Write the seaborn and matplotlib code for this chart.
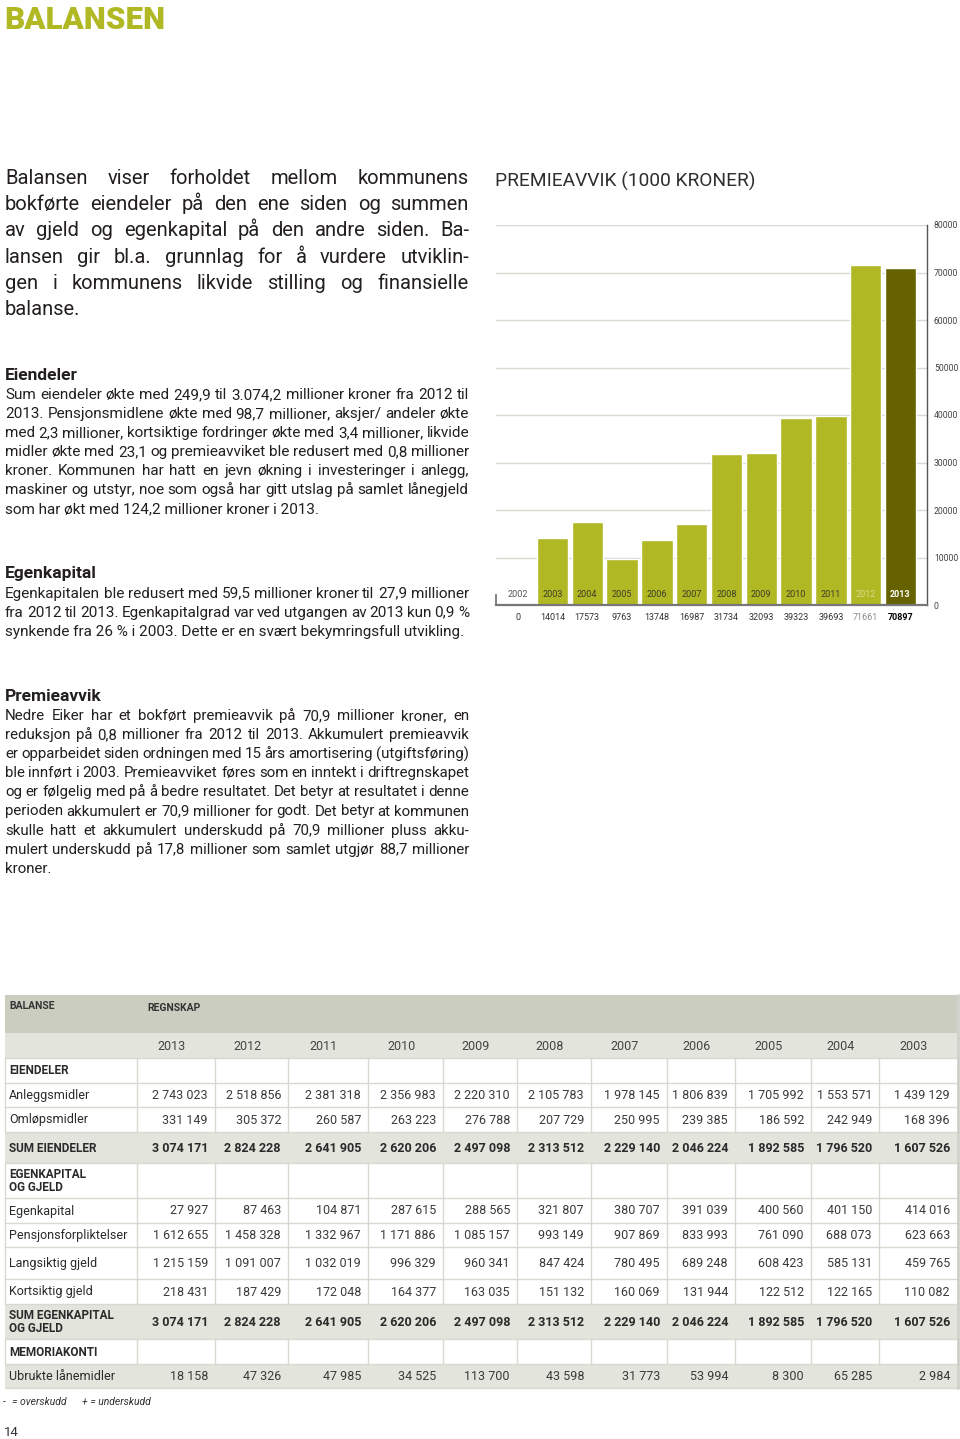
import numpy as np
import pandas as pd
import matplotlib
matplotlib.use('Agg')
import matplotlib.pyplot as plt
import seaborn as sns
from matplotlib.patches import Rectangle
from matplotlib.ticker import FuncFormatter

sns.set_theme(style="white")
plt.rcParams['font.family'] = ['Roboto', 'DejaVu Sans']

GREEN = '#b0b823'
DARK_OLIVE = '#666200'
TXT = '#231f20'
GRID = '#d9d9d2'

# ---- chart data: premieavvik (1000 kroner)
chart_years = ['2002', '2003', '2004', '2005', '2006', '2007', '2008', '2009',
               '2010', '2011', '2012', '2013']
premieavvik = [0, 14014, 17573, 9763, 13748, 16987, 31734, 32093, 39323, 39693,
               71661, 70897]

# ---- table data: balanse, regnskap
table_years = ['2013', '2012', '2011', '2010', '2009', '2008', '2007', '2006',
               '2005', '2004', '2003']
anleggsmidler = [2743023, 2518856, 2381318, 2356983, 2220310, 2105783, 1978145,
                 1806839, 1705992, 1553571, 1439129]
omlopsmidler = [331149, 305372, 260587, 263223, 276788, 207729, 250995, 239385,
                186592, 242949, 168396]
sum_eiendeler = [3074171, 2824228, 2641905, 2620206, 2497098, 2313512, 2229140,
                 2046224, 1892585, 1796520, 1607526]
egenkapital = [27927, 87463, 104871, 287615, 288565, 321807, 380707, 391039,
               400560, 401150, 414016]
pensjonsforpliktelser = [1612655, 1458328, 1332967, 1171886, 1085157, 993149,
                         907869, 833993, 761090, 688073, 623663]
langsiktig_gjeld = [1215159, 1091007, 1032019, 996329, 960341, 847424, 780495,
                    689248, 608423, 585131, 459765]
kortsiktig_gjeld = [218431, 187429, 172048, 164377, 163035, 151132, 160069,
                    131944, 122512, 122165, 110082]
sum_ek_gjeld = [3074171, 2824228, 2641905, 2620206, 2497098, 2313512, 2229140,
                2046224, 1892585, 1796520, 1607526]
ubrukte_lanemidler = [18158, 47326, 47985, 34525, 113700, 43598, 31773, 53994,
                      8300, 65285, 2984]

# ---- text
intro = ["Balansen viser forholdet mellom kommunens",
         "bokførte eiendeler på den ene siden og summen",
         "av gjeld og egenkapital på den andre siden. Ba-",
         "lansen gir bl.a. grunnlag for å vurdere utviklin-",
         "gen i kommunens likvide stilling og finansielle",
         "balanse."]
eiendeler_txt = ["Sum eiendeler økte med 249,9 til 3.074,2  millioner kroner fra 2012 til",
                 "2013. Pensjonsmidlene økte med 98,7 millioner, aksjer/ andeler økte",
                 "med 2,3 millioner, kortsiktige fordringer økte med 3,4 millioner, likvide",
                 "midler økte med 23,1 og premieavviket ble redusert med 0,8 millioner",
                 "kroner. Kommunen har hatt en jevn økning i investeringer i anlegg,",
                 "maskiner og utstyr, noe som også har gitt utslag på samlet lånegjeld",
                 "som har økt med 124,2 millioner kroner i 2013."]
egenkapital_txt = ["Egenkapitalen ble redusert med 59,5 millioner kroner til 27,9 millioner",
                   "fra 2012 til 2013. Egenkapitalgrad var ved utgangen av 2013  kun 0,9 %",
                   "synkende fra 26 % i 2003. Dette er en svært bekymringsfull utvikling."]
premie_txt = ["Nedre Eiker har et bokført premieavvik på 70,9 millioner kroner, en",
              "reduksjon på 0,8 millioner fra 2012 til 2013. Akkumulert premieavvik",
              "er opparbeidet siden ordningen med 15 års amortisering (utgiftsføring)",
              "ble innført i 2003. Premieavviket føres som en inntekt i driftregnskapet",
              "og er følgelig med på å bedre resultatet. Det betyr at resultatet i denne",
              "perioden akkumulert er 70,9 millioner for godt. Det betyr at kommunen",
              "skulle hatt et akkumulert underskudd på 70,9 millioner pluss akku-",
              "mulert underskudd på 17,8 millioner som samlet utgjør 88,7 millioner",
              "kroner."]

fig = plt.figure(figsize=(9.6, 14.39), dpi=100)
page = fig.add_axes([0, 0, 1, 1])
page.set_xlim(0, 960)
page.set_ylim(1439, 0)
page.axis('off')
renderer = fig.canvas.get_renderer()


def wwidth(s, size, weight='normal'):
    t = page.text(0, 0, s, fontsize=size, fontweight=weight)
    w = t.get_window_extent(renderer).width
    t.remove()
    return w


def paragraph(lines, x0, x1, y0, step, size, color=TXT):
    space = wwidth('a a', size) - wwidth('aa', size)
    for ln in lines[:-1]:
        words = ln.split()
        need = sum(wwidth(w, size) for w in words) + 0.8 * space * (len(words) - 1)
        if need > x1 - x0:
            size *= (x1 - x0) / need
    for k, ln in enumerate(lines):
        y = y0 + k * step
        if k == len(lines) - 1:
            page.text(x0, y, ln, fontsize=size, color=color, va='baseline')
            continue
        words = ln.split()
        widths = [wwidth(w, size) for w in words]
        gap = (x1 - x0 - sum(widths)) / (len(words) - 1)
        x = x0
        for w, wd in zip(words, widths):
            page.text(x, y, w, fontsize=size, color=color, va='baseline')
            x += wd + gap


# ---- headings and paragraphs
page.text(4, 29, 'BALANSEN', fontsize=22.5, fontweight='black', color=GREEN, va='baseline')
paragraph(intro, 5, 469, 184, 26.2, 14.5)
page.text(5, 380, 'Eiendeler', fontsize=12.5, fontweight='bold', color=TXT, va='baseline')
paragraph(eiendeler_txt, 5, 469, 399.3, 19.0, 11)
page.text(5, 577.7, 'Egenkapital', fontsize=12.5, fontweight='bold', color=TXT, va='baseline')
paragraph(egenkapital_txt, 5, 469, 597.7, 19.0, 11)
page.text(5, 701, 'Premieavvik', fontsize=12.5, fontweight='bold', color=TXT, va='baseline')
paragraph(premie_txt, 5, 469, 720, 19.1, 11)

page.text(495, 187, 'PREMIEAVVIK (1000 KRONER)', fontsize=13.8, fontweight='normal',
          color='#2e2e2e', va='baseline')

# ---- chart
ax = fig.add_axes([496 / 960, 1 - 605 / 1439, (927 - 496) / 960, (605 - 225) / 1439])
df = pd.DataFrame({'år': chart_years, 'premieavvik': premieavvik})
bar_colors = {y: (DARK_OLIVE if y == '2013' else GREEN) for y in chart_years}
sns.barplot(data=df, x='år', y='premieavvik', hue='år', palette=bar_colors,
            saturation=1, width=0.9, legend=False, ax=ax, zorder=2)
ax.set_xlim(-0.62, 11.76)
ax.set_ylim(0, 80000)
ax.set_xlabel('')
ax.set_ylabel('')
ax.set_xticks([])
ax.set_yticks(np.arange(0, 80001, 10000))
ax.yaxis.tick_right()
ax.yaxis.set_major_formatter(FuncFormatter(lambda v, _: f'{int(v)}'))
ax.tick_params(axis='y', length=0, pad=5, labelsize=6.2, labelcolor='#444444')
ax.grid(axis='y', color=GRID, lw=1)
ax.set_axisbelow(True)
ax.set_facecolor('none')
ax.spines['top'].set_visible(False)
ax.spines['left'].set_bounds(0, 2200)
ax.spines['left'].set_color('#777777')
ax.spines['left'].set_linewidth(1.3)
ax.spines['bottom'].set_color('#777777')
ax.spines['bottom'].set_linewidth(1.6)
ax.spines['right'].set_color('#555555')
ax.spines['right'].set_linewidth(1.0)

for i, (yr, val) in enumerate(zip(chart_years, premieavvik)):
    if yr == '2013':
        yc, vc, fw = 'white', 'black', 'bold'
    elif yr == '2012':
        yc, vc, fw = '#d9dc8c', '#8a8a8a', 'normal'
    elif yr == '2002':
        yc, vc, fw = '#555555', '#333333', 'normal'
    else:
        yc, vc, fw = '#3d3d2a', '#333333', 'normal'
    ax.annotate(yr, xy=(i, 0), xytext=(0, 11), textcoords='offset pixels',
                ha='center', va='center', fontsize=6.5, color=yc, fontweight=fw,
                annotation_clip=False, zorder=3)
    ax.annotate(f'{val}', xy=(i, 0), xytext=(0, -12), textcoords='offset pixels',
                ha='center', va='center', fontsize=6.5, color=vc, fontweight=fw,
                annotation_clip=False)

# ---- table
col_edges = [5, 137, 215, 288, 368, 443, 517, 591, 667, 735, 811, 879, 957]
row_edges = [1058, 1083, 1107, 1132, 1163, 1198, 1223, 1247, 1279, 1304, 1339, 1364, 1388]
tbl_rows = [
    ('EIENDELER', None, 'head'),
    ('Anleggsmidler', anleggsmidler, 'row'),
    ('Omløpsmidler', omlopsmidler, 'row'),
    ('SUM EIENDELER', sum_eiendeler, 'sum'),
    ('EGENKAPITAL\nOG GJELD', None, 'head'),
    ('Egenkapital', egenkapital, 'row'),
    ('Pensjonsforpliktelser', pensjonsforpliktelser, 'row'),
    ('Langsiktig gjeld', langsiktig_gjeld, 'row'),
    ('Kortsiktig gjeld', kortsiktig_gjeld, 'row'),
    ('SUM EGENKAPITAL\nOG GJELD', sum_ek_gjeld, 'sum'),
    ('MEMORIAKONTI', None, 'head'),
    ('Ubrukte lånemidler', ubrukte_lanemidler, 'shade'),
]

page.add_patch(Rectangle((5, 995), 952, 38, color='#cbcdc1', lw=0))
page.add_patch(Rectangle((5, 1033), 952, 25, color='#e3e4dc', lw=0))
page.text(9, 1006, 'BALANSE', fontsize=7.5, fontweight='bold', color='#333333', va='center')
page.text(147, 1008, 'REGNSKAP', fontsize=7.5, fontweight='bold', color='#333333', va='center')
for j, yr in enumerate(table_years):
    xc = (col_edges[j + 1] + col_edges[j + 2]) / 2 - 4
    page.text(xc, 1046.5, yr, fontsize=9, color='#444444', ha='center', va='center')

fmt = lambda v: f'{v:,}'.replace(',', ' ')
for r, (label, vals, kind) in enumerate(tbl_rows):
    y0, y1 = row_edges[r], row_edges[r + 1]
    yc = (y0 + y1) / 2
    if kind in ('sum', 'shade'):
        page.add_patch(Rectangle((5, y0), 952, y1 - y0, color='#e3e4dc', lw=0))
    else:
        for xe in col_edges[1:-1]:
            page.plot([xe, xe], [y0, y1], color=GRID, lw=1)
        page.plot([5, 5], [y0, y1], color=GRID, lw=1)
    page.plot([5, 957], [y1, y1], color=GRID, lw=1)
    bold = kind in ('head', 'sum')
    page.text(9, yc + 0.5, label, fontsize=8.5 if bold else 9,
              fontweight='bold' if bold else 'normal', color='#2a2a2a',
              va='center', linespacing=1.05)
    if vals is not None:
        for j, v in enumerate(vals):
            page.text(col_edges[j + 2] - 7, yc + 0.5, fmt(v), fontsize=9,
                      fontweight='bold' if kind == 'sum' else 'normal',
                      color='#2a2a2a' if kind == 'sum' else '#3a3a3a',
                      ha='right', va='center')
page.plot([5, 957], [1058, 1058], color=GRID, lw=1)
page.plot([958, 958], [995, 1388], color='#cfcfc9', lw=2)

page.text(3, 1402, '-', fontsize=7.5, style='italic', color='#333333', va='center')
page.text(12, 1402, '= overskudd', fontsize=7.5, style='italic', color='#333333', va='center')
page.text(82, 1402, '+ = underskudd', fontsize=7.5, style='italic', color='#333333', va='center')
page.text(4, 1433, '14', fontsize=9.5, color='#333333', va='center')

fig.savefig('out.png', dpi=100)
